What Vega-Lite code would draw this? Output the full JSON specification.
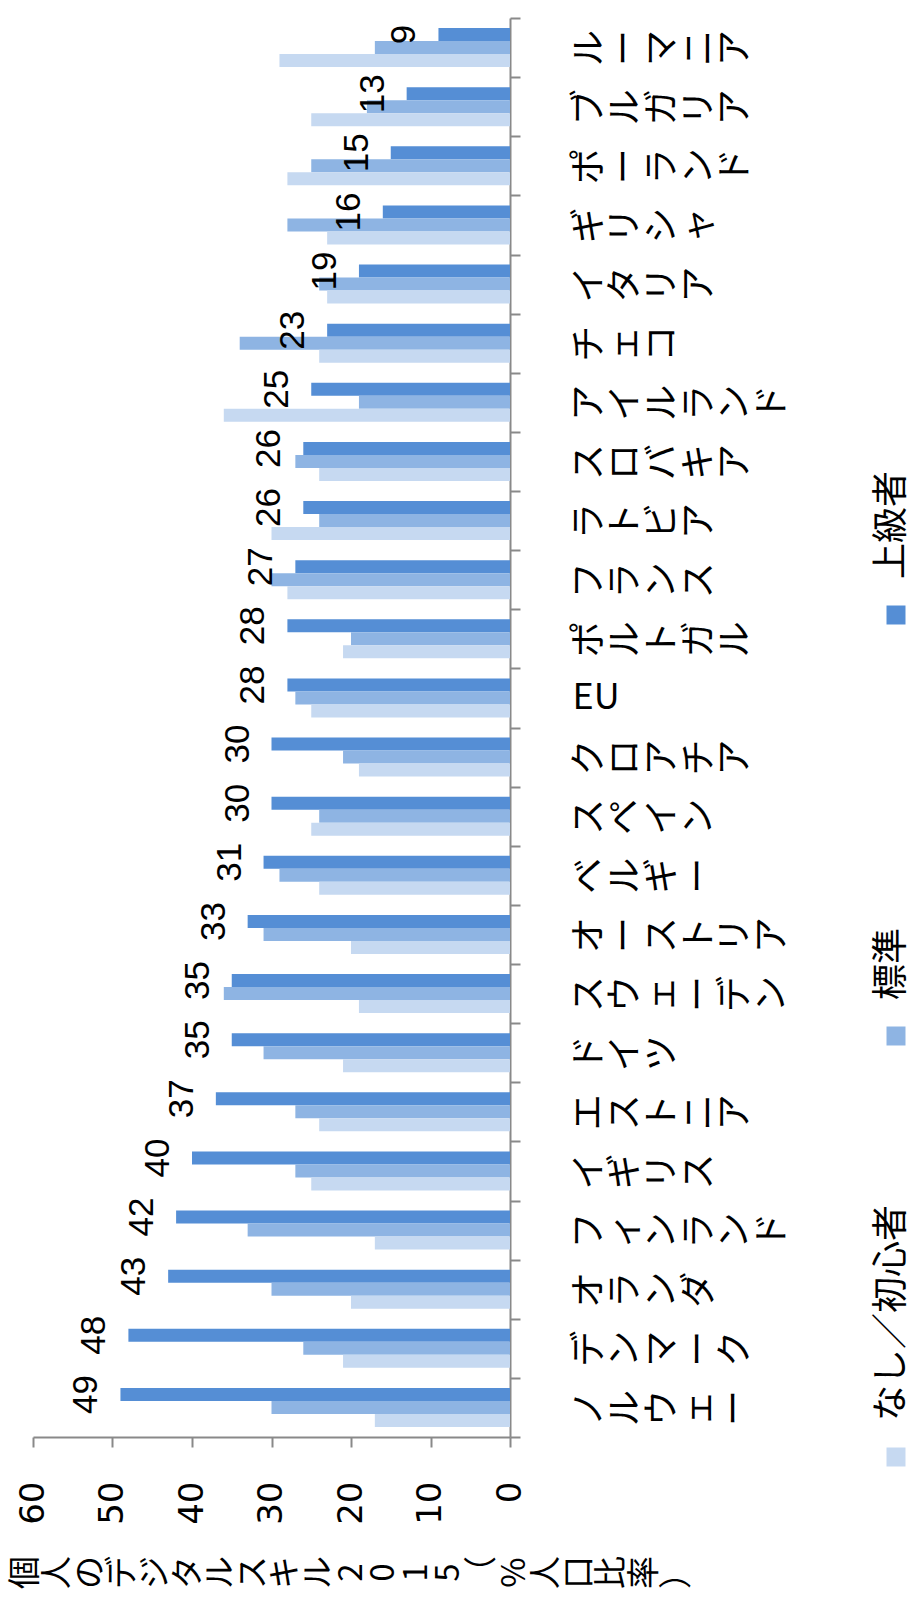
{
  "$schema": "https://vega.github.io/schema/vega-lite/v6.json",
  "width": 477,
  "height": 1419,
  "autosize": {"type": "none"},
  "padding": {"left": 33, "top": 18, "right": 398, "bottom": 161},
  "background": "white",
  "config": {"view": {"stroke": null}, "axis": {"grid": false}, "font": "Noto Sans CJK JP"},
  "data": {
    "values": [
      {"country": "ノルウェー", "series": "上級者", "value": 49},
      {"country": "ノルウェー", "series": "標準", "value": 30},
      {"country": "ノルウェー", "series": "なし／初心者", "value": 17},
      {"country": "デンマーク", "series": "上級者", "value": 48},
      {"country": "デンマーク", "series": "標準", "value": 26},
      {"country": "デンマーク", "series": "なし／初心者", "value": 21},
      {"country": "オランダ", "series": "上級者", "value": 43},
      {"country": "オランダ", "series": "標準", "value": 30},
      {"country": "オランダ", "series": "なし／初心者", "value": 20},
      {"country": "フィンランド", "series": "上級者", "value": 42},
      {"country": "フィンランド", "series": "標準", "value": 33},
      {"country": "フィンランド", "series": "なし／初心者", "value": 17},
      {"country": "イギリス", "series": "上級者", "value": 40},
      {"country": "イギリス", "series": "標準", "value": 27},
      {"country": "イギリス", "series": "なし／初心者", "value": 25},
      {"country": "エストニア", "series": "上級者", "value": 37},
      {"country": "エストニア", "series": "標準", "value": 27},
      {"country": "エストニア", "series": "なし／初心者", "value": 24},
      {"country": "ドイツ", "series": "上級者", "value": 35},
      {"country": "ドイツ", "series": "標準", "value": 31},
      {"country": "ドイツ", "series": "なし／初心者", "value": 21},
      {"country": "スウェーデン", "series": "上級者", "value": 35},
      {"country": "スウェーデン", "series": "標準", "value": 36},
      {"country": "スウェーデン", "series": "なし／初心者", "value": 19},
      {"country": "オーストリア", "series": "上級者", "value": 33},
      {"country": "オーストリア", "series": "標準", "value": 31},
      {"country": "オーストリア", "series": "なし／初心者", "value": 20},
      {"country": "ベルギー", "series": "上級者", "value": 31},
      {"country": "ベルギー", "series": "標準", "value": 29},
      {"country": "ベルギー", "series": "なし／初心者", "value": 24},
      {"country": "スペイン", "series": "上級者", "value": 30},
      {"country": "スペイン", "series": "標準", "value": 24},
      {"country": "スペイン", "series": "なし／初心者", "value": 25},
      {"country": "クロアチア", "series": "上級者", "value": 30},
      {"country": "クロアチア", "series": "標準", "value": 21},
      {"country": "クロアチア", "series": "なし／初心者", "value": 19},
      {"country": "EU", "series": "上級者", "value": 28},
      {"country": "EU", "series": "標準", "value": 27},
      {"country": "EU", "series": "なし／初心者", "value": 25},
      {"country": "ポルトガル", "series": "上級者", "value": 28},
      {"country": "ポルトガル", "series": "標準", "value": 20},
      {"country": "ポルトガル", "series": "なし／初心者", "value": 21},
      {"country": "フランス", "series": "上級者", "value": 27},
      {"country": "フランス", "series": "標準", "value": 30},
      {"country": "フランス", "series": "なし／初心者", "value": 28},
      {"country": "ラトビア", "series": "上級者", "value": 26},
      {"country": "ラトビア", "series": "標準", "value": 24},
      {"country": "ラトビア", "series": "なし／初心者", "value": 30},
      {"country": "スロバキア", "series": "上級者", "value": 26},
      {"country": "スロバキア", "series": "標準", "value": 27},
      {"country": "スロバキア", "series": "なし／初心者", "value": 24},
      {"country": "アイルランド", "series": "上級者", "value": 25},
      {"country": "アイルランド", "series": "標準", "value": 19},
      {"country": "アイルランド", "series": "なし／初心者", "value": 36},
      {"country": "チェコ", "series": "上級者", "value": 23},
      {"country": "チェコ", "series": "標準", "value": 34},
      {"country": "チェコ", "series": "なし／初心者", "value": 24},
      {"country": "イタリア", "series": "上級者", "value": 19},
      {"country": "イタリア", "series": "標準", "value": 24},
      {"country": "イタリア", "series": "なし／初心者", "value": 23},
      {"country": "ギリシャ", "series": "上級者", "value": 16},
      {"country": "ギリシャ", "series": "標準", "value": 28},
      {"country": "ギリシャ", "series": "なし／初心者", "value": 23},
      {"country": "ポーランド", "series": "上級者", "value": 15},
      {"country": "ポーランド", "series": "標準", "value": 25},
      {"country": "ポーランド", "series": "なし／初心者", "value": 28},
      {"country": "ブルガリア", "series": "上級者", "value": 13},
      {"country": "ブルガリア", "series": "標準", "value": 18},
      {"country": "ブルガリア", "series": "なし／初心者", "value": 25},
      {"country": "ルーマニア", "series": "上級者", "value": 9},
      {"country": "ルーマニア", "series": "標準", "value": 17},
      {"country": "ルーマニア", "series": "なし／初心者", "value": 29}
    ]
  },
  "encoding": {
    "y": {
      "field": "country",
      "type": "nominal",
      "sort": ["ルーマニア", "ブルガリア", "ポーランド", "ギリシャ", "イタリア", "チェコ", "アイルランド", "スロバキア", "ラトビア", "フランス", "ポルトガル", "EU", "クロアチア", "スペイン", "ベルギー", "オーストリア", "スウェーデン", "ドイツ", "エストニア", "イギリス", "フィンランド", "オランダ", "デンマーク", "ノルウェー"],
      "scale": {"paddingInner": 0, "paddingOuter": 0},
      "axis": {
        "orient": "right",
        "title": null,
        "domainColor": "#898989",
        "domainWidth": 2,
        "tickColor": "#898989",
        "tickWidth": 2,
        "tickSize": 10,
        "tickBand": "extent",
        "labelExpr": "datum.label === 'EU' ? 'EU' : split(datum.label, '')",
        "labelFont": "Noto Sans CJK JP",
        "labelFontSize": 36,
        "labelLineHeight": 36.7,
        "labelColor": "black",
        "labelPadding": 52,
        "labelLimit": 0,
        "labelOverlap": false,
        "encoding": {
          "labels": {
            "angle": {"value": {"expr": "datum.value === 'EU' ? 0 : 270"}},
            "align": {"value": {"expr": "datum.value === 'EU' ? 'left' : 'center'"}},
            "baseline": {"value": {"expr": "datum.value === 'EU' ? 'middle' : 'top'"}}
          }
        }
      }
    },
    "x": {
      "field": "value",
      "type": "quantitative",
      "scale": {"domain": [0, 60], "reverse": true, "nice": false, "zero": true},
      "axis": {
        "orient": "bottom",
        "values": [0, 10, 20, 30, 40, 50, 60],
        "domainColor": "#898989",
        "domainWidth": 2,
        "tickColor": "#898989",
        "tickWidth": 2,
        "tickSize": 10,
        "labelAngle": 270,
        "labelAlign": "right",
        "labelBaseline": "middle",
        "labelFont": "DejaVu Sans",
        "labelFontSize": 34,
        "labelPadding": 34,
        "labelColor": "black",
        "labelFlush": false,
        "labelOverlap": false,
        "title": ["個", "人", "の", "デ", "ジ", "タ", "ル", "ス", "キ", "ル", " ", "2", "0", "1", "5", "（", "%", "人", "口", "比", "率", "）"],
        "titleAngle": 270,
        "titleAlign": "center",
        "titleBaseline": "top",
        "titleX": -24,
        "titleY": 135,
        "titleFont": "Noto Sans CJK JP",
        "titleFontSize": 33,
        "titleFontWeight": "normal",
        "titleLineHeight": 32.6,
        "titleColor": "black"
      }
    },
    "yOffset": {
      "field": "series",
      "type": "nominal",
      "sort": ["上級者", "標準", "なし／初心者"],
      "scale": {"paddingOuter": 0.773, "paddingInner": 0}
    }
  },
  "layer": [
    {
      "mark": {"type": "bar"},
      "encoding": {
        "color": {
          "field": "series",
          "type": "nominal",
          "scale": {"domain": ["上級者", "標準", "なし／初心者"], "range": ["#558ED5", "#8EB4E3", "#C6D9F1"]},
          "legend": {
            "orient": "none",
            "legendX": 845,
            "legendY": 579,
            "direction": "vertical",
            "title": null,
            "padding": 0,
            "gridAlign": "all",
            "symbolType": "square",
            "symbolSize": 361,
            "symbolStrokeWidth": 0,
            "labelFont": "Noto Sans CJK JP",
            "labelFontSize": 36,
            "labelColor": "black",
            "labelLimit": 0,
            "labelOffset": 0,
            "rowPadding": 158,
            "encoding": {
              "labels": {
                "angle": {"value": 270},
                "align": {"value": "left"},
                "baseline": {"value": "middle"},
                "dx": {"value": 36},
                "dy": {"value": -22}
              }
            }
          }
        }
      }
    },
    {
      "transform": [{"filter": "datum.series === '上級者'"}],
      "mark": {"type": "text", "angle": 270, "align": "center", "baseline": "alphabetic", "dy": -23, "font": "Liberation Sans", "fontSize": 35, "color": "black"},
      "encoding": {"text": {"field": "value", "type": "quantitative"}}
    }
  ]
}
